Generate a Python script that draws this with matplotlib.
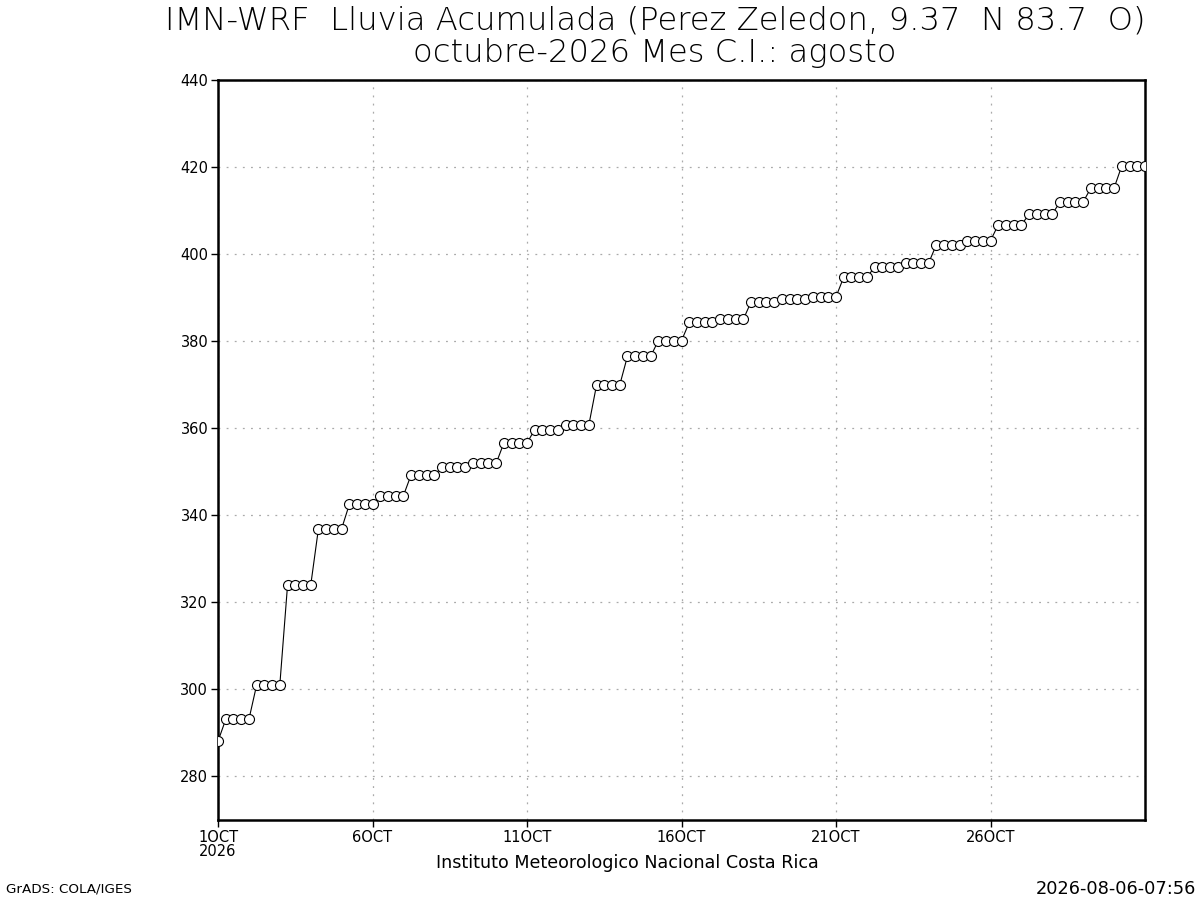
import matplotlib
matplotlib.use("Agg")
import matplotlib.pyplot as plt

# ---- data -----------------------------------------------------------
# 6-hourly accumulated rainfall (mm), 1 OCT 00Z .. 31 OCT 00Z
step_hours = 6
rain_acum = [
    288.1,
    293.1, 293.1, 293.1, 293.1,
    301.0, 301.0, 301.0, 301.0,
    323.9, 323.9, 323.9, 323.9,
    336.9, 336.9, 336.9, 336.9,
    342.5, 342.5, 342.5, 342.5,
    344.5, 344.5, 344.5, 344.5,
    349.3, 349.3, 349.3, 349.3,
    351.0, 351.0, 351.0, 351.0,
    351.9, 351.9, 351.9, 351.9,
    356.6, 356.6, 356.6, 356.6,
    359.7, 359.7, 359.7, 359.7,
    360.7, 360.7, 360.7, 360.7,
    369.9, 369.9, 369.9, 369.9,
    376.5, 376.5, 376.5, 376.5,
    380.1, 380.1, 380.1, 380.1,
    384.3, 384.3, 384.3, 384.3,
    385.0, 385.0, 385.0, 385.0,
    389.0, 389.0, 389.0, 389.0,
    389.8, 389.8, 389.8, 389.8,
    390.2, 390.2, 390.2, 390.2,
    394.7, 394.7, 394.7, 394.7,
    397.0, 397.0, 397.0, 397.0,
    398.0, 398.0, 398.0, 398.0,
    402.2, 402.2, 402.2, 402.2,
    403.1, 403.1, 403.1, 403.1,
    406.7, 406.7, 406.7, 406.7,
    409.2, 409.2, 409.2, 409.2,
    412.0, 412.0, 412.0, 412.0,
    415.2, 415.2, 415.2, 415.2,
    420.3, 420.3, 420.3, 420.3,
]
xtick_days = [0, 5, 10, 15, 20, 25]
xtick_labels = ["1OCT\n2026", "6OCT", "11OCT", "16OCT", "21OCT", "26OCT"]
ytick_values = [280, 300, 320, 340, 360, 380, 400, 420, 440]

title = "IMN-WRF  Lluvia Acumulada (Perez Zeledon, 9.37  N 83.7  O)\noctubre-2026 Mes C.I.: agosto"
x_caption = "Instituto Meteorologico Nacional Costa Rica"
left_footer = "GrADS: COLA/IGES"
right_footer = "2026-08-06-07:56"

plt.rcParams["font.family"] = ["DejaVu Sans"]

# ---- plot -----------------------------------------------------------
days = [i * step_hours / 24.0 for i in range(len(rain_acum))]

fig = plt.figure(figsize=(12, 9), dpi=100)
ax = fig.add_axes([218 / 1200, 80 / 900, (1145 - 218) / 1200, (820 - 80) / 900])

ax.plot(days, rain_acum, color="black", linewidth=0.8,
        marker="o", markersize=7.2, markerfacecolor="white",
        markeredgecolor="black", markeredgewidth=0.8, zorder=3)

ax.set_xlim(0, 30)
ax.set_ylim(270, 440)
ax.set_xticks(xtick_days)
ax.set_xticklabels(xtick_labels, fontsize=10.5, linespacing=0.95)
ax.set_yticks(ytick_values)
ax.set_yticklabels([str(v) for v in ytick_values], fontsize=10.5)
ax.tick_params(axis="both", direction="out", length=5, width=1, color="black", pad=2)

ax.grid(True, color="#aaaaaa", linestyle=(0, (1.5, 5)), linewidth=0.9)
ax.set_axisbelow(True)
for s in ax.spines.values():
    s.set_linewidth(1.8)
    s.set_color("black")

fig.text(655 / 1200, 1 - 37 / 900, title, ha="center", va="center",
         fontsize=23.2, linespacing=1.12, fontweight="light")
fig.text(627 / 1200, 1 - 863 / 900, x_caption, ha="center", va="center",
         fontsize=12.6)
fig.text(6 / 1200, 1 - 889 / 900, left_footer, ha="left", va="center",
         fontsize=9.7)
fig.text(1196 / 1200, 1 - 889 / 900, right_footer, ha="right", va="center",
         fontsize=12.8)

fig.savefig("out.png", dpi=100, facecolor="white")
